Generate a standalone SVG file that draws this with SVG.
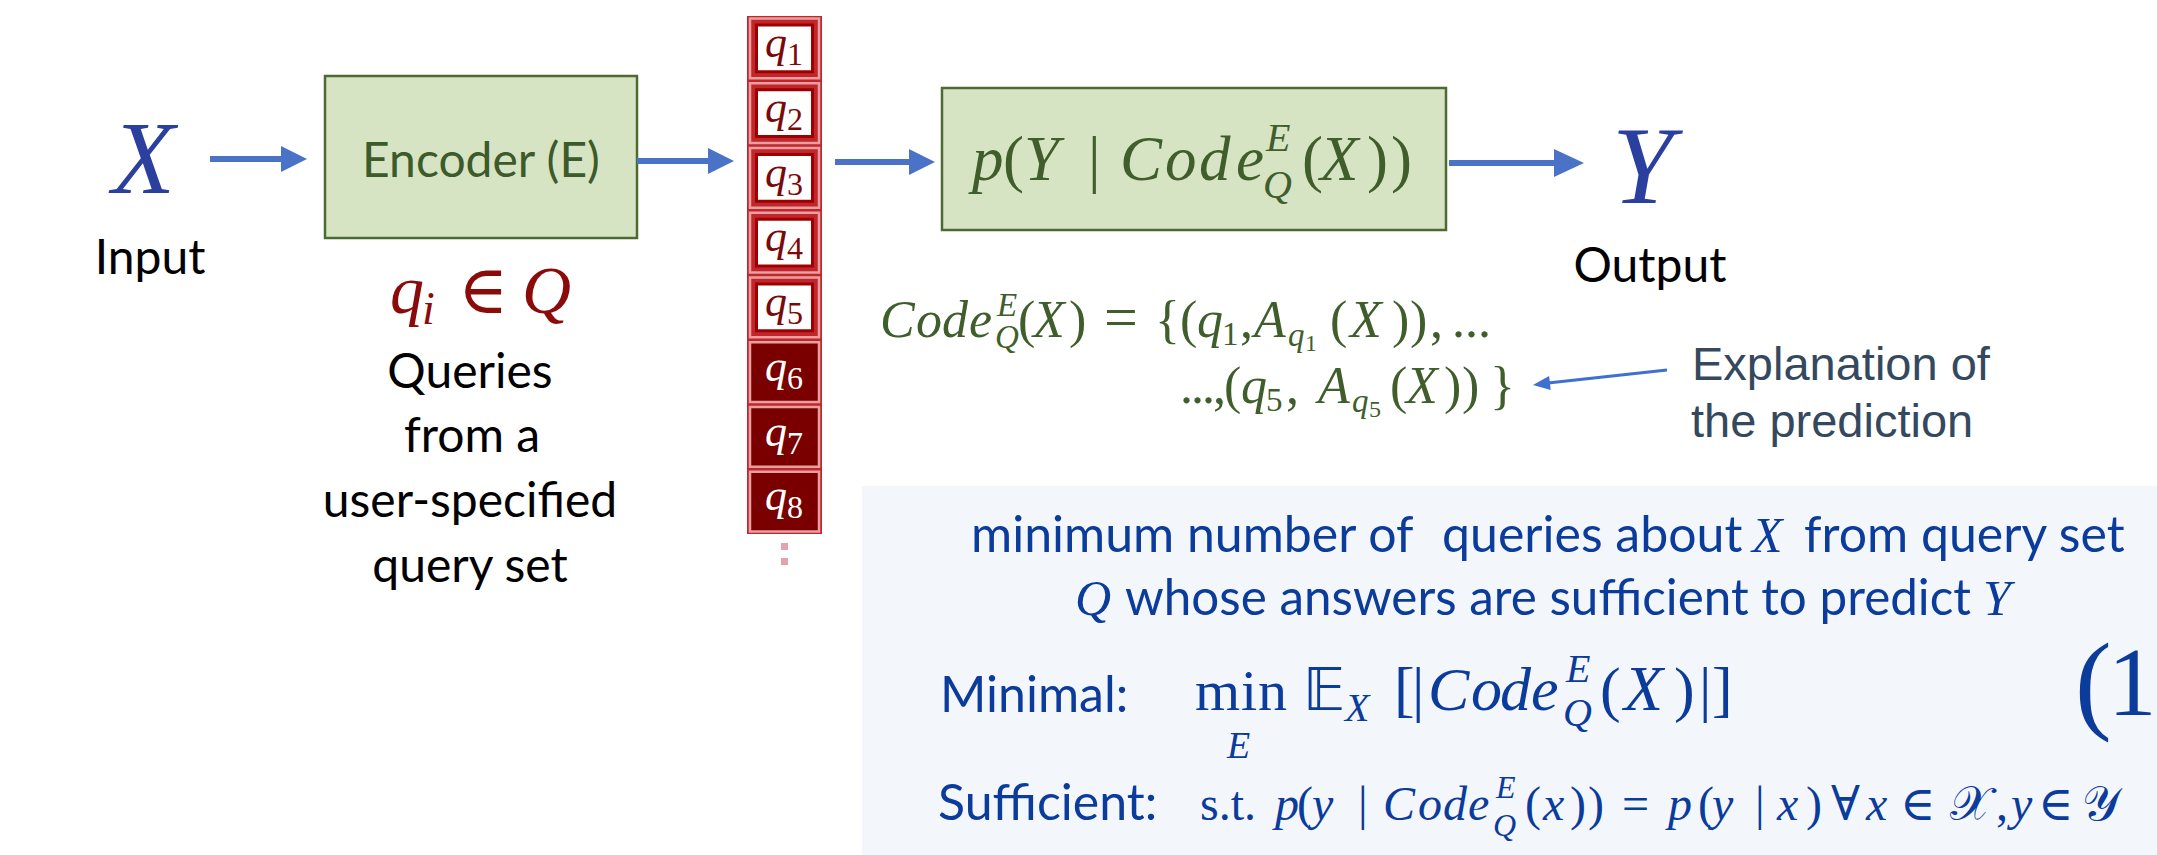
<svg xmlns="http://www.w3.org/2000/svg" width="2157" height="855" viewBox="0 0 2157 855">
<style>
.cal{font-family:Lato,'Open Sans',sans-serif;}
.ar{font-family:'Liberation Sans',Arial,sans-serif;}
.m{font-family:'Liberation Serif','DejaVu Serif',serif;font-style:italic;}
.r{font-family:'Liberation Serif','DejaVu Serif',serif;font-style:normal;}
.bb{font-family:'DejaVu Sans','DejaVu Serif',serif;font-style:normal;}
.green{fill:#3f5e2b;}
.blue{fill:#0b3b9b;}
.box{fill:#d6e4c3;stroke:#4d6a32;stroke-width:2.5;}
.shaft{stroke:#4a72c6;stroke-width:6;fill:none;}
.head{fill:#4a72c6;}
.pink{fill:none;stroke:#e6a0a0;stroke-width:2.5;}
.wcell{fill:#ffffff;stroke:#9e0000;stroke-width:3;}
.dcell{fill:#7a0000;stroke:#e6a0a0;stroke-width:2.5;}
.ql{fill:#7a0a0a;font-size:44px;}
.qd{fill:#ffffff;font-size:44px;}
</style>
<rect width="2157" height="855" fill="#ffffff"/>

<g id="panel">
<rect x="862" y="486" width="1295" height="369" fill="#f3f7fb"/>
<text class="cal blue" font-size="50" y="552"><tspan x="971">minimum number of</tspan><tspan x="1442">queries about</tspan><tspan class="m" x="1752">X</tspan><tspan x="1804">from query set</tspan></text>
<text class="cal blue" font-size="50" y="615"><tspan class="m" x="1075">Q</tspan><tspan x="1125" textLength="846" lengthAdjust="spacingAndGlyphs">whose answers are sufficient to predict</tspan><tspan class="m" x="1983">Y</tspan></text>
<text class="cal blue" font-size="50" x="940" y="712">Minimal:</text>
<text class="cal blue" font-size="50" x="938" y="820">Sufficient:</text>
<text class="blue" font-size="58" y="710">
<tspan class="r" x="1195 1241 1258">min</tspan>
<tspan class="m" x="1227" y="758" font-size="38">E</tspan>
<tspan class="bb" x="1303" y="710">&#x1D53C;</tspan>
<tspan class="m" x="1345" y="721" font-size="40">X</tspan>
<tspan class="r" x="1394 1412" y="710" font-size="62">[|</tspan>
<tspan class="m" x="1428 1471 1500 1531" font-size="62">Code</tspan>
<tspan class="m" x="1566" y="682" font-size="40">E</tspan>
<tspan class="m" x="1563" y="726" font-size="40">Q</tspan>
<tspan class="r" x="1600" y="710" font-size="62">(</tspan>
<tspan class="m" x="1624" font-size="64">X</tspan>
<tspan class="r" x="1674 1699 1712" font-size="62">)|]</tspan>
</text>
<text class="r blue"><tspan x="2075" y="719" font-size="110">(</tspan><tspan x="2108" y="715" font-size="97">1</tspan></text>
<text class="blue" font-size="48" y="820">
<tspan class="r" x="1200">s.t.</tspan>
<tspan class="m" x="1275">p</tspan>
<tspan class="r" x="1297">(</tspan>
<tspan class="m" x="1312">y</tspan>
<tspan class="r" x="1358">|</tspan>
<tspan class="m" x="1383 1418 1443 1468">Code</tspan>
<tspan class="m" x="1496" y="798" font-size="32">E</tspan>
<tspan class="m" x="1493" y="836" font-size="32">Q</tspan>
<tspan class="r" x="1525" y="820">(</tspan>
<tspan class="m" x="1543">x</tspan>
<tspan class="r" x="1570 1588">))</tspan>
<tspan class="r" x="1622">=</tspan>
<tspan class="m" x="1668">p</tspan>
<tspan class="r" x="1698">(</tspan>
<tspan class="m" x="1712">y</tspan>
<tspan class="r" x="1755">|</tspan>
<tspan class="m" x="1777">x</tspan>
<tspan class="r" x="1806">)</tspan>
<tspan class="r" x="1831">&#x2200;</tspan>
<tspan class="m" x="1866">x</tspan>
<tspan class="r" x="1900">&#x2208;</tspan>
<tspan class="bb" x="1950">&#x1D4B3;</tspan>
<tspan class="r" x="1996">,</tspan>
<tspan class="m" x="2011">y</tspan>
<tspan class="r" x="2038">&#x2208;</tspan>
<tspan class="bb" x="2082">&#x1D4B4;</tspan>
</text>
</g>

<g id="input">
<text class="m" x="112" y="193" font-size="103" fill="#2b3f9e">X</text>
<text class="cal" x="150" y="274" font-size="48" text-anchor="middle" fill="#000">Input</text>
</g>

<g id="encoder">
<rect class="box" x="325" y="76" width="312" height="162"/>
<text class="cal" x="481" y="177" font-size="48" text-anchor="middle" fill="#3d5a2b">Encoder (E)</text>
</g>

<g id="queries-label">
<text fill="#8b0a0a" font-size="68" y="313"><tspan class="m" x="390">q</tspan><tspan class="m" font-size="46" y="324" x="422">i</tspan><tspan class="r" x="458" y="313">&#x2208;</tspan><tspan class="m" x="522">Q</tspan></text>
<text class="cal" font-size="48" text-anchor="middle" fill="#000"><tspan x="470" y="388">Queries</tspan><tspan x="472" y="452">from a</tspan><tspan x="470" y="517">user-specified</tspan><tspan x="470" y="582">query set</tspan></text>
</g>

<g id="query-column">
<rect x="747" y="16" width="75" height="518" fill="#c0262c"/>
<rect class="pink" x="750" y="18.5" width="69" height="59.75"/><rect class="wcell" x="756.5" y="25" width="56" height="46.75"/>
<rect class="pink" x="750" y="83.25" width="69" height="59.75"/><rect class="wcell" x="756.5" y="89.75" width="56" height="46.75"/>
<rect class="pink" x="750" y="148" width="69" height="59.75"/><rect class="wcell" x="756.5" y="154.5" width="56" height="46.75"/>
<rect class="pink" x="750" y="212.75" width="69" height="59.75"/><rect class="wcell" x="756.5" y="219.25" width="56" height="46.75"/>
<rect class="pink" x="750" y="277.5" width="69" height="59.75"/><rect class="wcell" x="756.5" y="284" width="56" height="46.75"/>
<rect class="dcell" x="750" y="342.25" width="69" height="59.75"/>
<rect class="dcell" x="750" y="407" width="69" height="59.75"/>
<rect class="dcell" x="750" y="471.75" width="69" height="59.75"/>
<text class="m ql" x="765" y="57">q<tspan class="r" font-size="32" dy="8">1</tspan></text>
<text class="m ql" x="765" y="121.75">q<tspan class="r" font-size="32" dy="8">2</tspan></text>
<text class="m ql" x="765" y="186.5">q<tspan class="r" font-size="32" dy="8">3</tspan></text>
<text class="m ql" x="765" y="251.25">q<tspan class="r" font-size="32" dy="8">4</tspan></text>
<text class="m ql" x="765" y="316">q<tspan class="r" font-size="32" dy="8">5</tspan></text>
<text class="m qd" x="765" y="380.75">q<tspan class="r" font-size="32" dy="8">6</tspan></text>
<text class="m qd" x="765" y="445.5">q<tspan class="r" font-size="32" dy="8">7</tspan></text>
<text class="m qd" x="765" y="510.25">q<tspan class="r" font-size="32" dy="8">8</tspan></text>
<rect x="781" y="543" width="7" height="7" fill="#e3a3ad"/>
<rect x="781" y="558" width="7" height="7" fill="#e3a3ad"/>
</g>

<g id="predictor">
<rect class="box" x="942" y="88" width="504" height="142"/>
<text class="green" font-size="63" y="180">
<tspan class="m" x="972">p</tspan>
<tspan class="r" x="1003">(</tspan>
<tspan class="m" x="1024">Y</tspan>
<tspan class="r" x="1088">|</tspan>
<tspan class="m" x="1120 1165 1199 1236">Code</tspan>
<tspan class="m" x="1266" y="151" font-size="40">E</tspan>
<tspan class="m" x="1263" y="198" font-size="40">Q</tspan>
<tspan class="r" x="1302" y="180">(</tspan>
<tspan class="m" x="1320">X</tspan>
<tspan class="r" x="1367 1391">))</tspan>
</text>
</g>

<g id="output">
<text class="m" x="1612" y="203" font-size="110" fill="#2b3f9e">Y</text>
<text class="cal" x="1650" y="282" font-size="48" text-anchor="middle" fill="#000">Output</text>
</g>

<g id="code-definition">
<text class="green" font-size="52" y="337">
<tspan class="m" x="880 916 942 969">Code</tspan>
<tspan class="m" x="997" y="316" font-size="33">E</tspan>
<tspan class="m" x="995" y="348" font-size="33">Q</tspan>
<tspan class="r" x="1018" y="337">(</tspan>
<tspan class="m" x="1033">X</tspan>
<tspan class="r" x="1069">)</tspan>
<tspan class="r" x="1104" font-size="60">=</tspan>
<tspan class="r" x="1155 1180">{(</tspan>
<tspan class="m" x="1197">q</tspan>
<tspan class="r" x="1222" y="345" font-size="33">1</tspan>
<tspan class="r" x="1240" y="337">,</tspan>
<tspan class="m" x="1254">A</tspan>
<tspan class="m" x="1288" y="346" font-size="33">q</tspan>
<tspan class="r" x="1305" y="351" font-size="24">1</tspan>
<tspan class="r" x="1330" y="337">(</tspan>
<tspan class="m" x="1350">X</tspan>
<tspan class="r" x="1392 1410">))</tspan>
<tspan class="r" x="1430">,</tspan>
<tspan class="r" x="1452 1465 1478">...</tspan>
</text>
<text class="green" font-size="52" y="403">
<tspan class="r" x="1180 1191 1202 1213">...,</tspan>
<tspan class="r" x="1224">(</tspan>
<tspan class="m" x="1241">q</tspan>
<tspan class="r" x="1266" y="411" font-size="33">5</tspan>
<tspan class="r" x="1286" y="403">,</tspan>
<tspan class="m" x="1318">A</tspan>
<tspan class="m" x="1352" y="412" font-size="33">q</tspan>
<tspan class="r" x="1369" y="417" font-size="24">5</tspan>
<tspan class="r" x="1390" y="403">(</tspan>
<tspan class="m" x="1406">X</tspan>
<tspan class="r" x="1444 1462">))</tspan>
<tspan class="r" x="1490">}</tspan>
</text>
</g>

<g id="explanation">
<text class="ar" font-size="47" fill="#34495e"><tspan x="1692" y="380">Explanation of</tspan><tspan x="1691" y="437">the prediction</tspan></text>
</g>

<g id="connectors">
<line class="shaft" x1="210" y1="159" x2="284" y2="159"/>
<polygon class="head" points="281,146 307,159 281,172"/>
<line class="shaft" x1="637" y1="161" x2="711" y2="161"/>
<polygon class="head" points="708,148 734,161 708,174"/>
<line class="shaft" x1="835" y1="162" x2="912" y2="162"/>
<polygon class="head" points="909,149 935,162 909,175"/>
<line class="shaft" x1="1449" y1="163" x2="1557" y2="163"/>
<polygon class="head" points="1554,149 1584,163 1554,177"/>
<line x1="1667" y1="370" x2="1548" y2="383" stroke="#3e6fd1" stroke-width="3"/>
<polygon points="1533,385 1550.7,390.1 1549.1,376.1" fill="#3e6fd1"/>
</g>
</svg>
